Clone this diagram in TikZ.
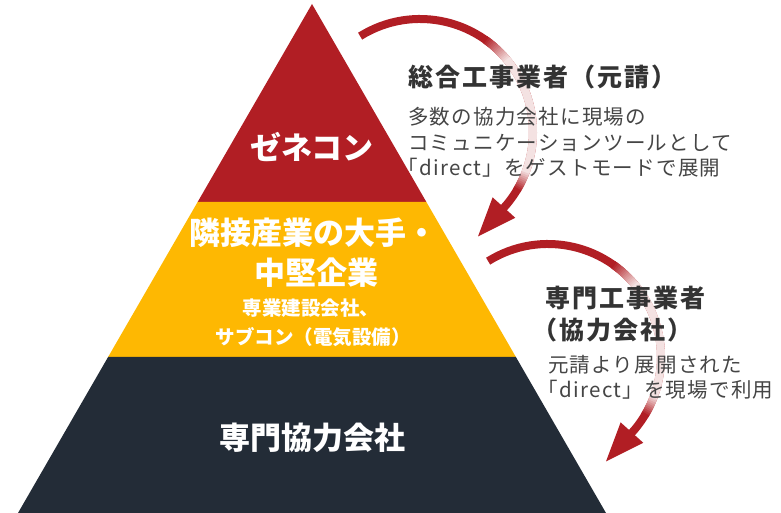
\documentclass[tikz,border=0pt]{standalone}
\usepackage{fontspec}
\setmainfont{Noto Sans CJK JP}
\newfontfamily\titlefont{Noto Sans CJK JP}[LetterSpace=8]
\newfontfamily\bodyfont{Noto Sans CJK JP}[LetterSpace=6]
\usetikzlibrary{arrows.meta,calc}
\definecolor{pyrRed}{HTML}{B11E24}
\definecolor{pyrYellow}{HTML}{FEB802}
\definecolor{pyrNavy}{HTML}{232C37}
\definecolor{arcPale}{HTML}{F4E2E2}
\definecolor{txtTitle}{HTML}{333333}
\definecolor{txtBody}{HTML}{454545}
\tikzset{
  tierbig/.style={text=white,inner sep=0pt,font=\fontsize{31}{36}\selectfont\bfseries},
  tiersmall/.style={text=white,inner sep=0pt,font=\fontsize{19.5}{24}\selectfont\bfseries},
  roletitle/.style={text=txtTitle,inner sep=0pt,anchor=west,align=left,font=\titlefont\fontsize{25}{32}\selectfont\bfseries},
  roledesc/.style={text=txtBody,inner sep=0pt,anchor=west,align=left,font=\bodyfont\fontsize{20.5}{25.5}\selectfont},
  flowarc/.style={draw=pyrRed,line width=8pt,-{Triangle[length=40pt,width=28pt]}}
}
\newcommand{\trimopen}{\hspace*{-0.5em}}
\begin{document}
\begin{tikzpicture}[x=1pt,y=1pt]
	\useasboundingbox (0,0) rectangle (781,513);
	%Kim tu thap
	\coordinate (apex) at (312,509);
	\coordinate (bl) at (18,0);
	\coordinate (br) at (606,0);
	\coordinate (redL) at ($(apex)!0.389!(bl)$);
	\coordinate (redR) at ($(apex)!0.389!(br)$);
	\coordinate (yelL) at ($(apex)!0.6935!(bl)$);
	\coordinate (yelR) at ($(apex)!0.6935!(br)$);
	\fill[pyrRed] (apex) -- (redL) -- (redR) -- cycle;
	\fill[pyrYellow] (redL) -- (yelL) -- (yelR) -- (redR) -- cycle;
	\fill[pyrNavy] (yelL) -- (bl) -- (br) -- (yelR) -- cycle;
	%Mui ten 1,2
	\coordinate (c1) at (420,381);
	\coordinate (c2) at (548,156);
	\foreach \c in {c1,c2}{
		\draw[flowarc] ([shift={(122:113)}]\c) arc[start angle=122,end angle=-42,radius=113pt] -- ++(-132:40);
		\foreach \a in {55,54,...,-30}{
			\pgfmathsetmacro\mix{100*max(0,min(1,(55-\a)/15,(\a+30)/10))}
			\draw[draw=arcPale!\mix!pyrRed,line width=8pt] ([shift={(\a:113)}]\c) arc[start angle=\a,end angle=\a-1.6,radius=113pt];
		}
	}
	%Tang 1,2,3
	\node[tierbig] (genecon) at (312,366) {ゼネコン};
	\node[tierbig] (rinsetsu) at (313,280) {隣接産業の大手・};
	\node[tierbig] (chuken) at (316,240) {中堅企業};
	\node[tiersmall] (sengyo) at (311,205) {専業建設会社、};
	\node[tiersmall] (subcon) at (313,176) {サブコン（電気設備）};
	\node[tierbig] (senmon) at (312,75) {専門協力会社};
	%Ghi chu 1
	\node[roletitle] (motoukeTitle) at (408,436) {総合工事業者（元請）};
	\node[roledesc] (motoukeDesc) at (408,370.5) {多数の協力会社に現場の\\コミュニケーションツールとして\\\trimopen「direct」をゲストモードで展開};
	%Ghi chu 2
	\node[roletitle] (senmonTitle) at (545,199) {専門工事業者\\\trimopen（協力会社）};
	\node[roledesc] (senmonDesc) at (548,135.5) {元請より展開された\\\trimopen「direct」を現場で利用};
\end{tikzpicture}
\end{document}
